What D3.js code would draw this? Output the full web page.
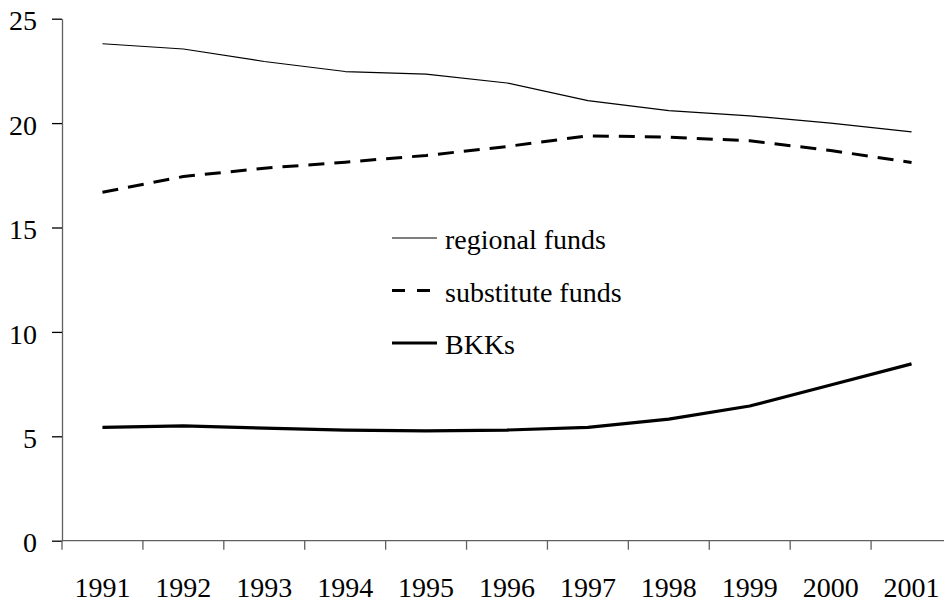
<!DOCTYPE html>
<html>
<head>
<meta charset="utf-8">
<script src="https://cdn.jsdelivr.net/npm/d3@7"></script>
</head>
<body style="margin:0">
<svg id="chart" width="944" height="604" font-family="Liberation Serif" font-size="28"></svg>
<script>
const years = ["1991", "1992", "1993", "1994", "1995", "1996", "1997", "1998", "1999", "2000", "2001"];
const regionalFunds = [23.8, 23.55, 22.95, 22.47, 22.35, 21.92, 21.08, 20.6, 20.35, 20.0, 19.58];
const substituteFunds = [16.69, 17.44, 17.84, 18.13, 18.45, 18.88, 19.39, 19.33, 19.15, 18.69, 18.11];
const bkks = [5.43, 5.5, 5.39, 5.3, 5.26, 5.3, 5.43, 5.82, 6.45, 7.46, 8.47];
const yTicks = [0, 5, 10, 15, 20, 25];

const series = [
    { name: "regional funds", values: regionalFunds, width: 1.2, dash: null },
    { name: "substitute funds", values: substituteFunds, width: 3, dash: "16,10" },
    { name: "BKKs", values: bkks, width: 3.2, dash: null }
];

const svg = d3.select("#chart");
const axisColor = "#606060";
const serif = "Liberation Serif";

const x = d3.scaleBand()
    .domain(years)
    .range([62, 952]);

const y = d3.scaleLinear()
    .domain([0, 25])
    .range([540.7, 18.7]);

// y axis
const yAxis = svg.append("g")
    .attr("transform", "translate(62,0)")
    .call(d3.axisLeft(y).tickValues(yTicks).tickSize(10).tickSizeOuter(0).tickPadding(15))
    .attr("font-family", serif)
    .attr("font-size", 28);
yAxis.select(".domain").attr("stroke", axisColor).attr("stroke-width", 1.3);
yAxis.selectAll("line").attr("stroke", "#000").attr("stroke-width", 1.3);
yAxis.selectAll("text").attr("fill", "#000").attr("dy", "0.4em");

// x axis: ticks on category boundaries
const xAxis = svg.append("g")
    .attr("transform", "translate(0,540.7)");
xAxis.append("line")
    .attr("x1", 62).attr("x2", 952)
    .attr("stroke", axisColor).attr("stroke-width", 1.3);
xAxis.selectAll(".tick")
    .data(years)
    .enter()
    .append("line")
    .attr("x1", d => x(d))
    .attr("x2", d => x(d))
    .attr("y1", 0)
    .attr("y2", 9)
    .attr("stroke", axisColor)
    .attr("stroke-width", 1.3);
xAxis.selectAll(".label")
    .data(years)
    .enter()
    .append("text")
    .attr("x", d => x(d) + x.bandwidth() / 2)
    .attr("y", 56)
    .attr("text-anchor", "middle")
    .text(d => d);

// lines
const line = d3.line()
    .x((d, i) => x(years[i]) + x.bandwidth() / 2)
    .y(d => y(d));

svg.selectAll(".series")
    .data(series)
    .enter()
    .append("path")
    .attr("class", "series")
    .attr("d", d => line(d.values))
    .attr("fill", "none")
    .attr("stroke", "#000")
    .attr("stroke-width", d => d.width)
    .attr("stroke-dasharray", d => d.dash)
    .attr("stroke-linejoin", "round");

// legend
const rows = svg.append("g").selectAll("g")
    .data(series)
    .enter()
    .append("g")
    .attr("transform", (d, i) => `translate(0,${238 + i * 52.5})`);
rows.append("line")
    .attr("x1", 392).attr("x2", d => d.dash ? 434 : 437)
    .attr("stroke", "#000")
    .attr("stroke-width", d => d.width)
    .attr("stroke-dasharray", d => d.dash ? "13,12" : null);
rows.append("text")
    .attr("x", 445)
    .attr("y", 11)
    .text(d => d.name);
</script>
</body>
</html>
